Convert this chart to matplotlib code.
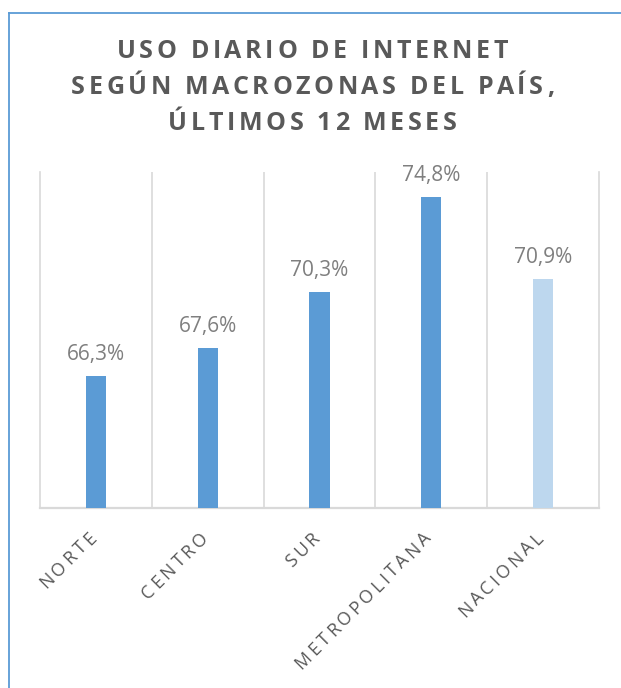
import numpy as np
import matplotlib
matplotlib.use('Agg')
import matplotlib.pyplot as plt
from matplotlib.transforms import ScaledTranslation
from matplotlib.lines import Line2D

# datos
categorias = ['NORTE', 'CENTRO', 'SUR', 'METROPOLITANA', 'NACIONAL']
valores = [66.3, 67.6, 70.3, 74.8, 70.9]
etiquetas = ['66,3%', '67,6%', '70,3%', '74,8%', '70,9%']
titulo = ['USO DIARIO DE INTERNET', 'SEGÚN MACROZONAS DEL PAÍS,', 'ÚLTIMOS 12 MESES']
colores = ['#5B9BD5', '#5B9BD5', '#5B9BD5', '#5B9BD5', '#BDD7EE']

plt.rcParams['font.family'] = ['Open Sans', 'DejaVu Sans']

fig = plt.figure(figsize=(6.21, 6.88), dpi=100)
ax = fig.add_axes([40/621, 1 - 508/688, 559/621, 336/688])
renderer = fig.canvas.get_renderer()


def ancho(s, **kw):
    # ancho de un caracter (con espacios) midiendo entre dos barras
    t = fig.text(0, 0, '|' + s + '|', **kw)
    w1 = t.get_window_extent(renderer).width
    t.set_text('||')
    w0 = t.get_window_extent(renderer).width
    t.remove()
    return w1 - w0


def texto_espaciado(x, y, s, transform, esp, angulo=0, ha='center',
                    dx=0, dy=0, **kw):
    # texto con espaciado entre letras (como en Excel)
    anchos = [ancho(c, **kw) for c in s]
    total = sum(anchos) + esp * (len(s) - 1)
    if ha == 'center':
        pos = -total / 2
    elif ha == 'right':
        pos = -total
    else:
        pos = 0
    a = np.radians(angulo)
    for c, w in zip(s, anchos):
        ox = (dx + pos * np.cos(a)) / fig.dpi
        oy = (dy + pos * np.sin(a)) / fig.dpi
        off = ScaledTranslation(ox, oy, fig.dpi_scale_trans)
        fig.text(x, y, c, transform=transform + off, rotation=angulo,
                 rotation_mode='anchor', ha='left', va='baseline', **kw)
        pos += w + esp


x = np.arange(len(categorias))
ax.bar(x, valores, width=0.18, color=colores, zorder=3)
ax.set_xlim(-0.5, len(categorias) - 0.5)
ax.set_ylim(60, 76)

for i, (v, e) in enumerate(zip(valores, etiquetas)):
    ax.annotate(e, (i, v), xytext=(0, 16), textcoords='offset pixels',
                ha='center', va='baseline', fontsize=15, color='#7F7F7F')

# lineas de division
ax.set_xticks(np.arange(0.5, len(categorias) - 0.5), minor=True)
ax.grid(True, which='minor', axis='x', color='#D9D9D9', lw=1.2)
ax.set_xticks([])
ax.set_yticks([])
ax.tick_params(which='both', length=0)
ax.spines['top'].set_visible(False)
for lado in ['left', 'right']:
    ax.spines[lado].set_color('#D9D9D9')
    ax.spines[lado].set_linewidth(1.2)
ax.spines['bottom'].set_color('#D9D9D9')
ax.spines['bottom'].set_linewidth(1.6)

# etiquetas del eje
for i, c in enumerate(categorias):
    texto_espaciado(i, 0, c, ax.get_xaxis_transform(), 3.2, angulo=45,
                    ha='right', dx=1, dy=-31, fontsize=13, color='#595959')

# titulo
for k, linea in enumerate(titulo):
    texto_espaciado(312.5/621, 1 - (58 + 36*k)/688, linea, fig.transFigure, 3.6,
                    fontsize=18, fontweight='bold', color='#595959')

# borde del grafico
fig.add_artist(Line2D([8.5/621, 8.5/621], [0, 1 - 12.5/688], color='#5B9BD5',
                      lw=1.3, transform=fig.transFigure))
fig.add_artist(Line2D([8.5/621, 1], [1 - 12.5/688, 1 - 12.5/688], color='#5B9BD5',
                      lw=1.3, transform=fig.transFigure))

fig.savefig('out.png', dpi=100)
